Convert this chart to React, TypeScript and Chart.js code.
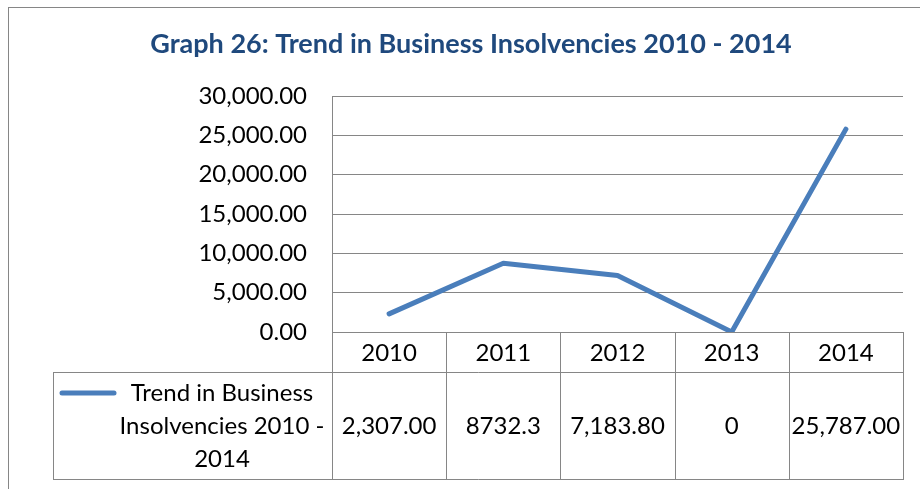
import React, { useEffect, useRef } from "react";
import { Chart, registerables } from "chart.js";

Chart.register(...registerables);

const TITLE = "Graph 26: Trend in Business Insolvencies 2010 - 2014";
const SERIES_NAME = "Trend in Business Insolvencies 2010 - 2014";
const LEGEND_LINES = ["Trend in Business", "Insolvencies 2010 -", "2014"];
const years = ["2010", "2011", "2012", "2013", "2014"];
const insolvencies = [2307, 8732.3, 7183.8, 0, 25787];
const tableLabels = ["2,307.00", "8732.3", "7,183.80", "0", "25,787.00"];
const Y_MIN = 0;
const Y_MAX = 30000;
const Y_STEP = 5000;

const FONT = "Lato";
const GRID = "#868686";
const LINE = "#4A7EBB";
const TITLE_COLOR = "#1F497D";

const fmt = (v: number) =>
  v.toLocaleString("en-US", { minimumFractionDigits: 2, maximumFractionDigits: 2 });

const tablePlugin = {
  id: "excelTable",
  beforeDraw(chart: any) {
    const ctx = chart.ctx;
    ctx.save();
    ctx.fillStyle = "#ffffff";
    ctx.fillRect(0, 0, chart.width, chart.height);
    ctx.strokeStyle = GRID;
    ctx.lineWidth = 1;
    ctx.strokeRect(8.5, 7.5, chart.width + 20, chart.height + 20);
    // title
    ctx.fillStyle = TITLE_COLOR;
    ctx.font = `bold 27px ${FONT}`;
    ctx.textAlign = "center";
    ctx.textBaseline = "middle";
    ctx.fillText(TITLE, 471, 44);
    ctx.restore();
  },
  beforeDatasetsDraw(chart: any) {
    const ctx = chart.ctx;
    const area = chart.chartArea;
    const xs = chart.scales.x;
    const n = years.length;
    const colW = (area.right - area.left) / n;
    const rowTop = area.bottom;
    const rowMid = rowTop + 40;
    const rowBot = rowMid + 107;
    const legendLeft = 53.5;
    ctx.save();
    ctx.strokeStyle = GRID;
    ctx.lineWidth = 1;
    ctx.beginPath();
    ctx.moveTo(area.left, Math.round(rowTop) + 0.5);
    ctx.lineTo(area.right, Math.round(rowTop) + 0.5);
    ctx.moveTo(legendLeft, Math.round(rowMid) + 0.5);
    ctx.lineTo(area.right, Math.round(rowMid) + 0.5);
    ctx.moveTo(legendLeft, Math.round(rowBot) + 0.5);
    ctx.lineTo(area.right, Math.round(rowBot) + 0.5);
    for (let i = 0; i <= n; i++) {
      const x = Math.round(area.left + i * colW) + 0.5;
      ctx.moveTo(x, Math.round(rowTop));
      ctx.lineTo(x, Math.round(rowBot) + 1);
    }
    ctx.moveTo(legendLeft, Math.round(rowMid));
    ctx.lineTo(legendLeft, Math.round(rowBot) + 1);
    ctx.stroke();

    ctx.fillStyle = "#000000";
    ctx.font = `24px ${FONT}`;
    ctx.textAlign = "center";
    ctx.textBaseline = "middle";
    for (let i = 0; i < n; i++) {
      const cx = xs.getPixelForValue(i);
      ctx.fillText(years[i], cx, rowTop + 21);
      ctx.fillText(tableLabels[i], cx, rowMid + 54);
    }
    const lineY = rowMid + 21;
    LEGEND_LINES.forEach((t, k) => {
      ctx.fillText(t, 222, lineY + k * 33);
    });
    ctx.strokeStyle = LINE;
    ctx.lineWidth = 5;
    ctx.lineCap = "round";
    ctx.beginPath();
    ctx.moveTo(62, lineY);
    ctx.lineTo(114, lineY);
    ctx.stroke();
    ctx.restore();
  },
};

export default function App() {
  const ref = useRef<HTMLCanvasElement | null>(null);
  useEffect(() => {
    if (!ref.current) return;
    const chart = new Chart(ref.current, {
      type: "line",
      data: {
        labels: years,
        datasets: [
          {
            label: SERIES_NAME,
            data: insolvencies,
            borderColor: LINE,
            backgroundColor: LINE,
            borderWidth: 5,
            borderCapStyle: "round",
            borderJoinStyle: "round",
            pointRadius: 0,
            tension: 0,
          },
        ],
      },
      options: {
        responsive: false,
        animation: false,
        devicePixelRatio: 1,
        layout: { padding: { top: 96, right: 17, bottom: 157, left: 0 } },
        plugins: {
          legend: { display: false },
          title: { display: false },
          tooltip: { enabled: false },
        },
        scales: {
          x: { type: "category", display: false, offset: true },
          y: {
            min: Y_MIN,
            max: Y_MAX,
            ticks: {
              stepSize: Y_STEP,
              padding: 25,
              color: "#000000",
              font: { family: FONT, size: 24 },
              callback: (v: any) => fmt(Number(v)),
            },
            grid: { color: GRID, lineWidth: 1, drawTicks: false },
            border: { display: true, color: GRID, width: 1 },
            afterFit: (scale: any) => {
              scale.width = 332;
            },
          },
        },
      },
      plugins: [tablePlugin],
    });
    return () => chart.destroy();
  }, []);
  return (
    <div style={{ position: "fixed", left: 0, top: 0, width: 920, height: 489, background: "#fff" }}>
      <canvas ref={ref} width={920} height={489} style={{ display: "block" }} />
    </div>
  );
}
